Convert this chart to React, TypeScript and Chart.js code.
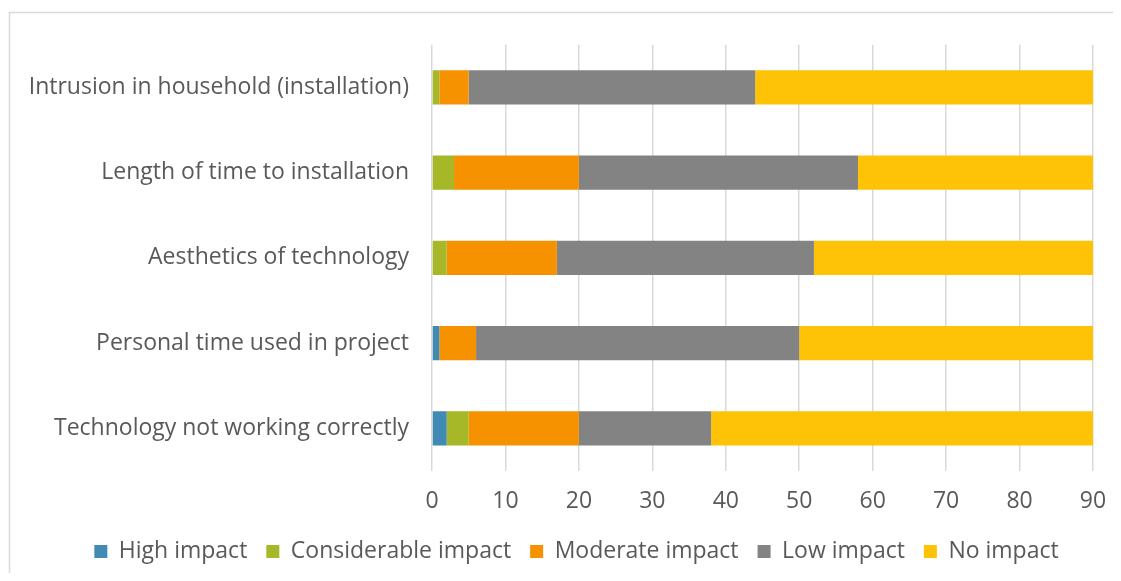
import React, { useEffect, useRef } from "react";
import { Chart, registerables } from "chart.js";

Chart.register(...registerables);

const categories = [
  "Intrusion in household (installation)",
  "Length of time to installation",
  "Aesthetics of technology",
  "Personal time used in project",
  "Technology not working correctly",
];
const seriesNames = ["High impact", "Considerable impact", "Moderate impact", "Low impact", "No impact"];
const highImpact = [0, 0, 0, 1, 2];
const considerableImpact = [1, 3, 2, 0, 3];
const moderateImpact = [4, 17, 15, 5, 15];
const lowImpact = [39, 38, 35, 44, 18];
const noImpact = [46, 32, 38, 40, 52];
const xTicks = [0, 10, 20, 30, 40, 50, 60, 70, 80, 90];
const colors = ["#418AB3", "#A6B727", "#F69200", "#838383", "#FEC306"];

const FONT = "'Open Sans', sans-serif";
const TICK_FONT = "'Liberation Sans Narrow', 'Open Sans', sans-serif";
const TEXT = "#595959";

export default function App() {
  const ref = useRef<HTMLCanvasElement | null>(null);
  useEffect(() => {
    if (!ref.current) return;
    const values = [highImpact, considerableImpact, moderateImpact, lowImpact, noImpact];
    const frame = {
      id: "frame",
      beforeDraw(chart: any) {
        const c = chart.ctx;
        c.save();
        c.strokeStyle = "#d9d9d9";
        c.lineWidth = 1.5;
        c.beginPath();
        c.moveTo(1.5, chart.height + 5);
        c.lineTo(1.5, 4.5);
        c.lineTo(chart.width + 5, 4.5);
        c.stroke();
        c.restore();
      },
      afterLayout(chart: any) {
        if (chart.legend) {
          chart.legend.left += 16;
          chart.legend.right += 16;
        }
      },
    };
    const chart = new Chart(ref.current, {
      type: "bar",
      data: {
        labels: categories,
        datasets: seriesNames.map((name, i) => ({
          label: name,
          data: values[i],
          backgroundColor: colors[i],
          borderWidth: 0,
          barPercentage: 0.4,
          categoryPercentage: 1,
        })),
      },
      options: {
        indexAxis: "y",
        responsive: false,
        animation: false,
        layout: { padding: { top: 34, right: 0, left: 0, bottom: 0 } },
        scales: {
          x: {
            stacked: true,
            min: 0,
            max: 90,
            afterBuildTicks: (scale: any) => {
              scale.ticks = xTicks.map((v) => ({ value: v }));
            },
            afterFit: (scale: any) => {
              scale.height = 50;
              scale.paddingLeft = 0;
              scale.paddingRight = 20;
            },
            grid: { color: "#d9d9d9", lineWidth: 1.5, drawTicks: false },
            border: { display: false },
            ticks: { color: TEXT, font: { family: TICK_FONT, size: 23 }, padding: 17, maxRotation: 0 },
          },
          y: {
            stacked: true,
            grid: { display: false, drawTicks: false },
            border: { display: false },
            afterFit: (scale: any) => {
              scale.width = 424;
            },
            ticks: { color: TEXT, font: { family: FONT, size: 23 }, padding: 23 },
          },
        },
        plugins: {
          legend: {
            position: "bottom",
            labels: {
              color: TEXT,
              font: { family: FONT, size: 23 },
              boxWidth: 13,
              boxHeight: 13,
              padding: 19,
            },
          },
          tooltip: { enabled: false },
        },
      },
      plugins: [frame],
    } as any);
    return () => chart.destroy();
  }, []);
  return <canvas ref={ref} width={1105} height={565} style={{ display: "block" }} />;
}
